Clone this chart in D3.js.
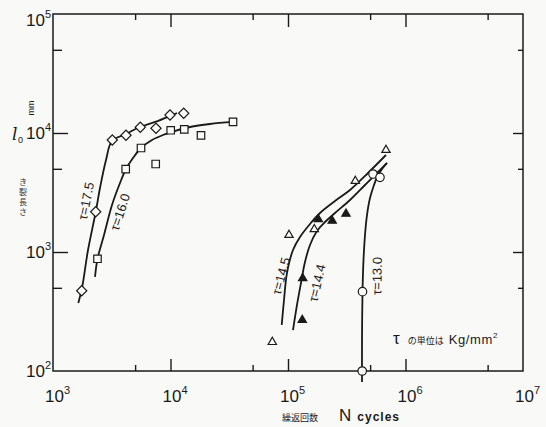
<!DOCTYPE html>
<html>
<head>
<meta charset="utf-8">
<script src="https://cdn.jsdelivr.net/npm/d3@7"></script>
<style>
  body { margin: 0; background: #f9f9f8; }
  svg { display: block; }
</style>
</head>
<body>
<script>
// values: N (cycles) vs crack length l0 (mm)
var pts175 = [[1755,473],[2309,2181],[3196,8734],[4181,9565],[5533,11170],[7524,10950],[9902,14170],[12950,14640]];
var pts160 = [[2391,877],[4157,4963],[5610,7482],[7482,5490],[10040,10540],[13100,10740],[18180,9565],[34040,12380]];
var pts145 = [[73520,175],[102000,1390],[167400,1551],[374000,3951],[682300,7197]];
var pts144 = [[132300,268],[133400,601],[181100,1883],[237800,1829],[311600,2094]];
var pts130 = [[428000,100],[430600,464],[528900,4523],[606700,4243]];

// hand drawn curves
var curve175 = [[1642,373],[1765,498],[1986,1039],[2309,2168],[2512,3449],[2826,5931],[3178,8570],[4181,9808],[5500,11230],[7381,12380],[9902,13900],[11360,14730]];
var curve160 = [[2278,617],[2391,873],[2717,1390],[3178,2483],[3718,3800],[4181,4983],[4795,6166],[5610,7482],[6960,8735],[8634,9621],[10920,10390],[14660,11230],[21690,11900],[34040,12380]];
var curve145 = [[88400,244],[92470,395],[98040,666],[110300,1039],[126500,1337],[153900,1719],[187200,2127],[251200,2683],[337100,3319],[479500,4612],[682300,6534]];
var curve144 = [[110300,221],[119300,359],[129000,549],[139500,824],[153900,1145],[176500,1502],[206500,1787],[251200,2127],[337100,2735],[452200,3656],[583400,4702],[696000,5598]];
var curve130 = [[426500,81],[426500,182],[430600,461],[439100,857],[452200,1390],[470200,2046],[498800,2843],[539500,3656],[583400,4437],[631000,4983],[696000,5598]];

var xMajor = [1e4, 1e5, 1e6];
var xMinor = [5e3, 5e4, 5e5, 5e6];
var yMajor = [1e3, 1e4];
var yMinor = [5e2, 5e3, 5e4];
var xExp = [3, 4, 5, 6, 7];
var yExp = [2, 3, 4, 5];

var margin = {top: 14, right: 23, bottom: 56, left: 53},
    width = 546 - margin.left - margin.right,
    height = 427 - margin.top - margin.bottom;

var svg = d3.select("body").append("svg")
    .attr("width", 546)
    .attr("height", 427)
  .append("g")
    .attr("transform", "translate(" + margin.left + "," + margin.top + ")");

var x = d3.scaleLog().domain([1e3, 1e7]).range([0, width]);
var y = d3.scaleLog().domain([1e2, 1e5]).range([height, 0]);

var ink = "#1a1a1a";

// ticks, all pointing inward
function ticks(axis, vals, size, tr) {
  var g = svg.append("g")
    .attr("transform", tr || null)
    .call(axis.tickValues(vals).tickSize(size).tickFormat(""));
  g.select(".domain").remove();
  g.selectAll("line").attr("stroke", ink).attr("stroke-width", 1.4);
}
ticks(d3.axisBottom(x), xMajor, -12, "translate(0," + height + ")");
ticks(d3.axisBottom(x), xMinor, -6, "translate(0," + height + ")");
ticks(d3.axisTop(x), xMajor, -13);
ticks(d3.axisTop(x), xMinor, -6);
ticks(d3.axisLeft(y), yMajor, -15);
ticks(d3.axisLeft(y), yMinor, -9);
ticks(d3.axisRight(y), yMajor, -10, "translate(" + width + ",0)");
ticks(d3.axisRight(y), yMinor, -5, "translate(" + width + ",0)");

svg.append("rect")
  .attr("width", width).attr("height", height)
  .attr("fill", "none").attr("stroke", ink).attr("stroke-width", 1.5);

// tick labels 10^n
function powLabel(px, py, e) {
  var t = svg.append("text")
    .attr("x", px).attr("y", py)
    .attr("font-family", "Liberation Sans, Arial, sans-serif")
    .attr("font-size", 17).attr("fill", ink);
  t.append("tspan").text("10");
  t.append("tspan").attr("dy", -8).attr("font-size", 11).text(e);
}
xExp.forEach(function(e) { powLabel(x(Math.pow(10, e)) - 8, height + 31, e); });
yExp.forEach(function(e) {
  var dy = e == 5 ? 12 : 6;
  powLabel(-27, y(Math.pow(10, e)) + dy, e);
});

// curves
var line = d3.line()
  .x(function(d) { return x(d[0]); })
  .y(function(d) { return y(d[1]); })
  .curve(d3.curveCatmullRom);

[curve175, curve160, curve145, curve144, curve130].forEach(function(c) {
  svg.append("path").datum(c)
    .attr("d", line)
    .attr("fill", "none").attr("stroke", ink).attr("stroke-width", 1.8);
});

// markers
function marks(data, type, size, fill, rot) {
  svg.selectAll(null).data(data).enter().append("path")
    .attr("d", d3.symbol().type(type).size(size))
    .attr("transform", function(d) {
      return "translate(" + x(d[0]) + "," + y(d[1]) + ")" + (rot ? " rotate(" + rot + ")" : "");
    })
    .attr("fill", fill).attr("stroke", ink).attr("stroke-width", 1.2);
}
marks(pts175, d3.symbolSquare, 52, "#fbfbfa", 45);
marks(pts160, d3.symbolSquare, 56, "#fbfbfa");
marks(pts145, d3.symbolTriangle, 30, "#fbfbfa");
marks(pts144, d3.symbolTriangle, 30, ink);
marks(pts130, d3.symbolCircle, 56, "#fbfbfa");

// curve labels
var curveLabels = [
  {t: "τ=17.5", px: 33, py: 187, a: -79},
  {t: "τ=16.0", px: 67, py: 198, a: -72},
  {t: "τ=14.5", px: 228, py: 262, a: -75},
  {t: "τ=14.4", px: 264, py: 269, a: -77},
  {t: "τ=13.0", px: 324, py: 262, a: -89}
];
svg.selectAll(null).data(curveLabels).enter().append("text")
  .attr("transform", function(d) { return "translate(" + d.px + "," + d.py + ") rotate(" + d.a + ")"; })
  .attr("text-anchor", "middle")
  .attr("dy", "0.35em")
  .attr("font-family", "Liberation Sans, Arial, sans-serif")
  .attr("font-size", 13).attr("fill", ink)
  .text(function(d) { return d.t; });

// unit note
var note = svg.append("text")
  .attr("x", 340).attr("y", 330)
  .attr("fill", ink)
  .attr("font-family", "Liberation Sans, Arial, sans-serif");
note.append("tspan").attr("font-size", 17).text("τ");
note.append("tspan").attr("dx", 8).attr("font-size", 9).attr("font-family", "Noto Sans CJK JP").text("の単位は");
note.append("tspan").attr("dx", 5).attr("font-size", 13).attr("letter-spacing", 0.6).text("Kg/mm");
note.append("tspan").attr("dy", -6).attr("font-size", 8).text("2");

// x axis title
var xt = svg.append("text")
  .attr("x", 229).attr("y", height + 50)
  .attr("fill", ink)
  .attr("font-family", "Liberation Sans, Arial, sans-serif");
xt.append("tspan").attr("font-size", 9).attr("font-family", "Noto Sans CJK JP").text("繰返回数");
xt.append("tspan").attr("dx", 21).attr("font-size", 17).text("N");
xt.append("tspan").attr("dx", 6).attr("font-size", 12).attr("font-weight", "bold").attr("letter-spacing", 1).text("cycles");

// y axis title
svg.append("text")
  .attr("x", -41).attr("y", 126)
  .attr("font-family", "DejaVu Serif, serif")
  .attr("font-style", "italic")
  .attr("font-size", 17).attr("fill", ink)
  .text("l");
svg.append("text")
  .attr("x", -35).attr("y", 129)
  .attr("font-family", "Liberation Sans, Arial, sans-serif")
  .attr("font-size", 9).attr("fill", ink)
  .text("0");
svg.append("text")
  .attr("transform", "translate(-19,94) rotate(-90)")
  .attr("text-anchor", "middle")
  .attr("font-family", "Liberation Sans, Arial, sans-serif")
  .attr("font-size", 9).attr("fill", ink)
  .text("mm");
["き", "裂", "長", "さ"].forEach(function(c, i) {
  svg.append("text")
    .attr("x", -30).attr("y", 171 + i * 10)
    .attr("text-anchor", "middle")
    .attr("font-family", "Noto Sans CJK JP")
    .attr("font-size", 8).attr("fill", "#333")
    .text(c);
});
</script>
</body>
</html>
